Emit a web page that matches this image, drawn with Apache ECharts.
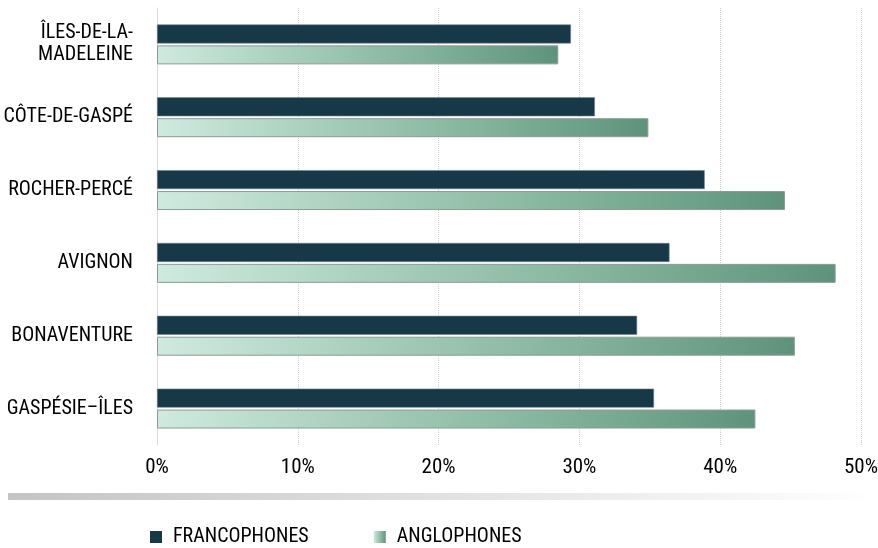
<!DOCTYPE html>
<html>
<head>
<meta charset="utf-8">
<script src="https://cdn.jsdelivr.net/npm/echarts@6/dist/echarts.min.js"></script>
<style>
html,body{margin:0;padding:0;background:#fff;}
#chart{width:878px;height:548px;}
</style>
</head>
<body>
<div id="chart"></div>
<script>
const categories = ['ÎLES-DE-LA-\nMADELEINE', 'CÔTE-DE-GASPÉ', 'ROCHER-PERCÉ', 'AVIGNON', 'BONAVENTURE', 'GASPÉSIE–ÎLES'];
const francophones = [29.4, 31.1, 38.9, 36.4, 34.1, 35.3];
const anglophones = [28.5, 34.9, 44.6, 48.2, 45.3, 42.5];
const xTicks = [0, 10, 20, 30, 40, 50];

const FONT = '"Roboto Condensed", "DejaVu Sans", sans-serif';
const chart = echarts.init(document.getElementById('chart'));
const angloGrad = new echarts.graphic.LinearGradient(0, 0, 1, 0, [
  {offset: 0, color: '#cfeadf'},
  {offset: 0.35, color: '#a5cdb9'},
  {offset: 0.7, color: '#7fb097'},
  {offset: 1, color: '#5e937b'}
]);
chart.setOption({
  animation: false,
  textStyle: {fontFamily: FONT},
  grid: {left: 157, right: 17, top: 8, bottom: 103, containLabel: false, outerBoundsMode: 'none'},
  xAxis: {
    type: 'value', min: 0, max: 50, interval: 10,
    axisLine: {show: false}, axisTick: {show: false},
    splitLine: {show: true, lineStyle: {color: '#d0d0d0', type: 'dotted', width: 1}},
    axisLabel: {
      margin: 12, color: '#000', fontSize: 21, fontFamily: FONT,
      formatter: v => xTicks.indexOf(v) >= 0 ? v + '%' : ''
    }
  },
  yAxis: {
    type: 'category', data: categories, inverse: true,
    axisLine: {show: true, lineStyle: {color: '#d9d9d9'}},
    axisTick: {show: false},
    axisLabel: {margin: 24, color: '#000', fontSize: 20, lineHeight: 22, fontFamily: FONT, align: 'right'}
  },
  legend: {
    top: 522, left: 145, itemWidth: 12, itemHeight: 12, itemGap: 65,
    icon: 'rect',
    itemStyle: {borderWidth: 0},
    textStyle: {fontSize: 20, color: '#000', fontFamily: FONT, padding: [0, 0, 0, 6]},
    data: ['FRANCOPHONES', 'ANGLOPHONES']
  },
  graphic: [{
    type: 'rect', left: 8, top: 493,
    shape: {width: 870, height: 7},
    style: {fill: new echarts.graphic.LinearGradient(0, 0, 1, 0, [
      {offset: 0, color: '#c4c4c4'}, {offset: 1, color: '#ffffff'}
    ])},
    silent: true
  }],
  series: [
    {
      name: 'FRANCOPHONES', type: 'bar', data: francophones,
      barWidth: 19, barGap: '10%', barCategoryGap: '44%',
      itemStyle: {color: '#163847', borderColor: '#6f8790', borderWidth: 0.6}
    },
    {
      name: 'ANGLOPHONES', type: 'bar', data: anglophones,
      barWidth: 19,
      itemStyle: {color: angloGrad, borderColor: '#8f9a95', borderWidth: 1}
    }
  ]
});
</script>
</body>
</html>
